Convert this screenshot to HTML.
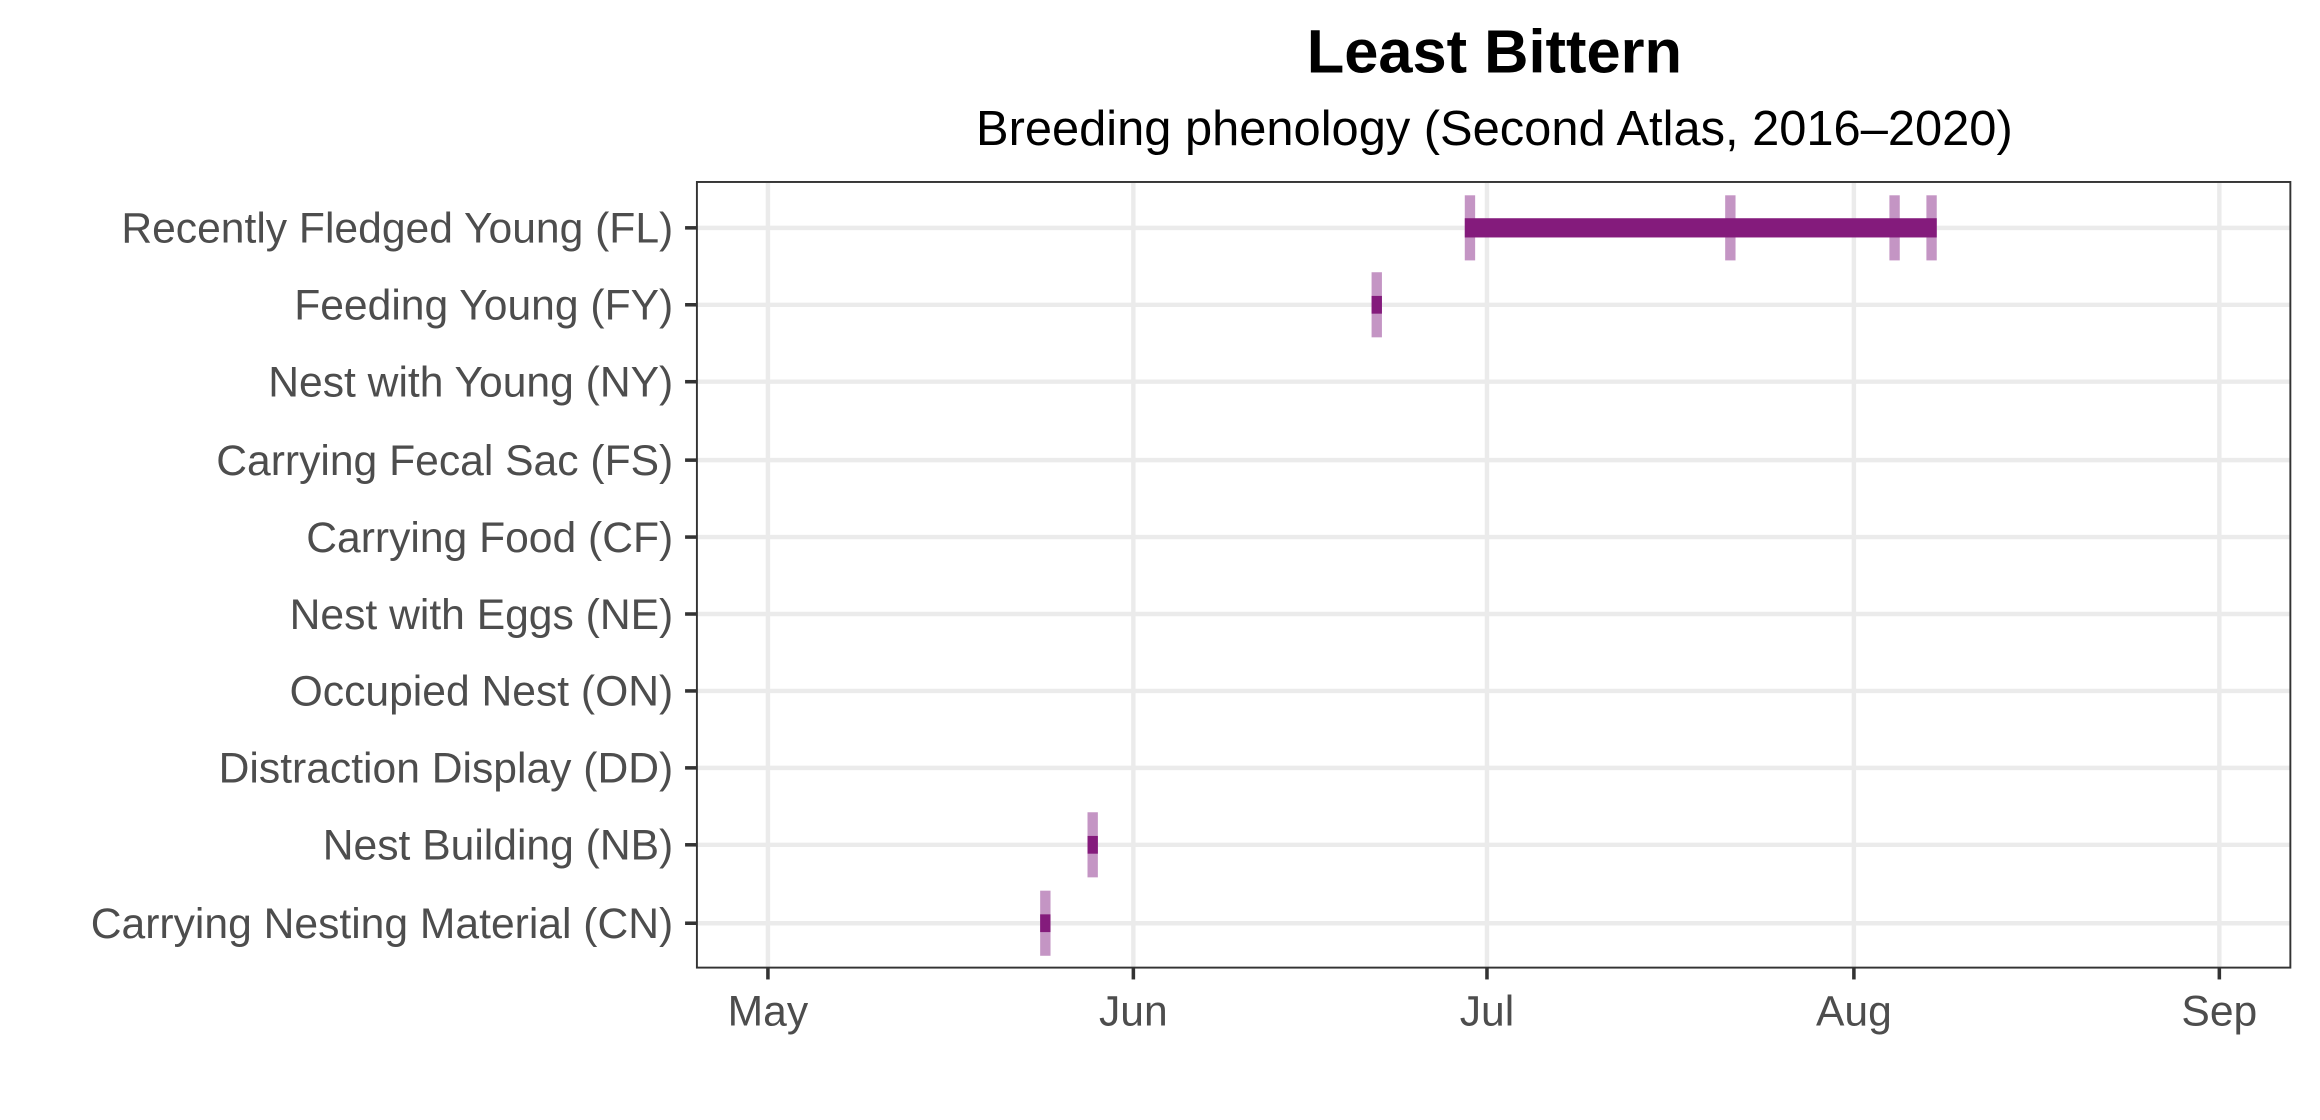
<!DOCTYPE html>
<html><head><meta charset="utf-8"><style>html,body{margin:0;padding:0;background:#fff}svg{display:block}</style></head>
<body>
<svg width="2320" height="1120" viewBox="0 0 1568 757" xmlns="http://www.w3.org/2000/svg" font-family="Liberation Sans, Arial, sans-serif">
<rect width="1568" height="757" fill="#fff"/>
<text x="1010" y="49" text-anchor="middle" font-size="41.5" font-weight="bold" fill="#000">Least Bittern</text>
<text x="1010" y="98" text-anchor="middle" font-size="33" fill="#000">Breeding phenology (Second Atlas, 2016–2020)</text>
<g stroke="#ebebeb" stroke-width="3">
<line x1="519" y1="123" x2="519" y2="654"/><line x1="766" y1="123" x2="766" y2="654"/><line x1="1005" y1="123" x2="1005" y2="654"/><line x1="1253" y1="123" x2="1253" y2="654"/><line x1="1500" y1="123" x2="1500" y2="654"/>
<line x1="471" y1="154" x2="1548" y2="154"/><line x1="471" y1="206" x2="1548" y2="206"/><line x1="471" y1="258" x2="1548" y2="258"/><line x1="471" y1="311" x2="1548" y2="311"/><line x1="471" y1="363" x2="1548" y2="363"/><line x1="471" y1="415" x2="1548" y2="415"/><line x1="471" y1="467" x2="1548" y2="467"/><line x1="471" y1="519" x2="1548" y2="519"/><line x1="471" y1="571" x2="1548" y2="571"/><line x1="471" y1="624" x2="1548" y2="624"/>
</g>
<g fill="#c495c4">
<rect x="990" y="132" width="7" height="44"/><rect x="1166" y="132" width="7" height="44"/><rect x="1277" y="132" width="7" height="44"/><rect x="1302" y="132" width="7" height="44"/>
<rect x="927" y="184" width="7" height="44"/><rect x="735" y="549" width="7" height="44"/><rect x="703" y="602" width="7" height="44"/>
</g>
<g fill="#841b7c">
<rect x="990" y="147.5" width="319" height="13"/>
<rect x="927" y="200" width="7" height="12"/><rect x="735" y="565" width="7" height="12"/><rect x="703" y="618" width="7" height="12"/>
</g>
<rect x="471" y="123" width="1077" height="531" fill="none" stroke="#333" stroke-width="1.3"/>
<g stroke="#333" stroke-width="2.4">
<line x1="463" y1="154" x2="471" y2="154"/><line x1="463" y1="206" x2="471" y2="206"/><line x1="463" y1="258" x2="471" y2="258"/><line x1="463" y1="311" x2="471" y2="311"/><line x1="463" y1="363" x2="471" y2="363"/><line x1="463" y1="415" x2="471" y2="415"/><line x1="463" y1="467" x2="471" y2="467"/><line x1="463" y1="519" x2="471" y2="519"/><line x1="463" y1="571" x2="471" y2="571"/><line x1="463" y1="624" x2="471" y2="624"/>
<line x1="519" y1="654" x2="519" y2="662"/><line x1="766" y1="654" x2="766" y2="662"/><line x1="1005" y1="654" x2="1005" y2="662"/><line x1="1253" y1="654" x2="1253" y2="662"/><line x1="1500" y1="654" x2="1500" y2="662"/>
</g>
<g font-size="28.8" fill="#4d4d4d" text-anchor="end">
<text x="455" y="164">Recently Fledged Young (FL)</text>
<text x="455" y="216">Feeding Young (FY)</text>
<text x="455" y="268">Nest with Young (NY)</text>
<text x="455" y="321">Carrying Fecal Sac (FS)</text>
<text x="455" y="373">Carrying Food (CF)</text>
<text x="455" y="425">Nest with Eggs (NE)</text>
<text x="455" y="477">Occupied Nest (ON)</text>
<text x="455" y="529">Distraction Display (DD)</text>
<text x="455" y="581">Nest Building (NB)</text>
<text x="455" y="634">Carrying Nesting Material (CN)</text>
</g>
<g font-size="28.8" fill="#4d4d4d" text-anchor="middle">
<text x="519" y="693">May</text><text x="766" y="693">Jun</text><text x="1005" y="693">Jul</text><text x="1253" y="693">Aug</text><text x="1500" y="693">Sep</text>
</g>
</svg>
</body></html>
